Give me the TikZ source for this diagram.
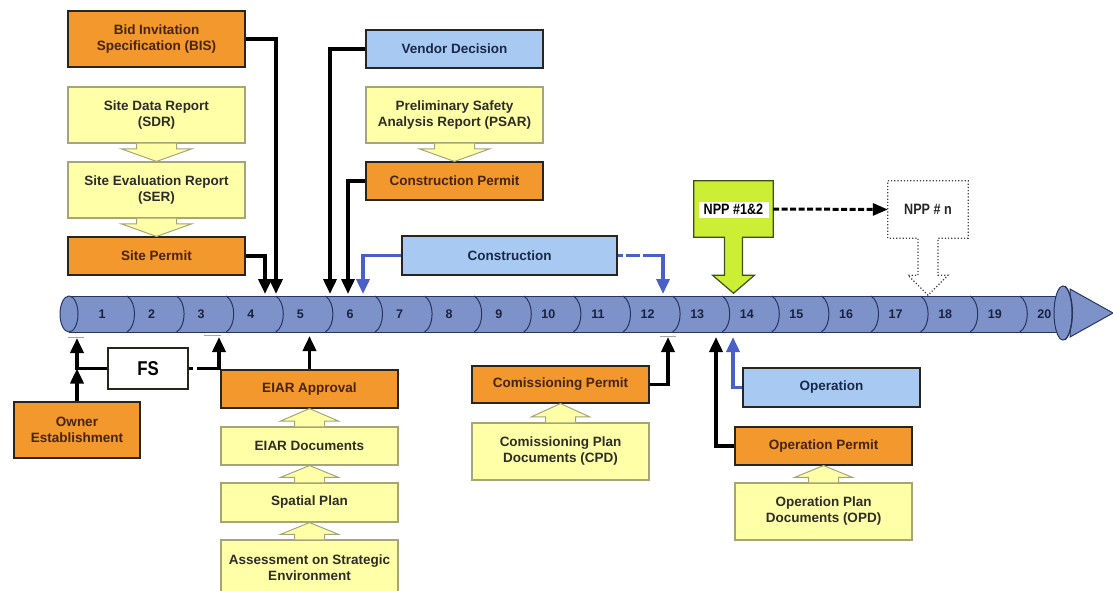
\documentclass[tikz,border=0pt]{standalone}
\usepackage{fontspec}
\setmainfont{Liberation Sans}
\newfontfamily\condfont[FakeStretch=0.84]{Liberation Sans}
\usetikzlibrary{arrows.meta,calc}
\definecolor{orng}{RGB}{242,152,44}
\definecolor{orngtxt}{RGB}{72,36,12}
\definecolor{ylw}{RGB}{255,255,168}
\definecolor{ylwline}{RGB}{165,165,120}
\definecolor{ylwtxt}{RGB}{45,45,40}
\definecolor{bl}{RGB}{168,202,242}
\definecolor{bltxt}{RGB}{25,40,72}
\definecolor{boxline}{RGB}{40,36,30}
\definecolor{grn}{RGB}{204,238,52}
\definecolor{grnline}{RGB}{60,80,20}
\definecolor{tubefill}{RGB}{126,146,202}
\definecolor{tubeline}{RGB}{40,52,96}
\definecolor{segtxt}{RGB}{26,34,64}
\definecolor{arrblue}{RGB}{72,96,200}
\newcommand\blk[4]{%
  \path[hollow] let \p1=(#1), \p2=(#2), \n1={0.3*(\y2-\y1)} in
   (\x2-#3,\y1) -- (\x2-#3,{\y1+\n1}) -- (\x2-#4,{\y1+\n1}) -- (\x2,\y2)
   -- (\x2+#4,{\y1+\n1}) -- (\x2+#3,{\y1+\n1}) -- (\x2+#3,\y1);}
\begin{document}
\begin{tikzpicture}[x=1pt,y=-1pt,
  box/.style={draw=boxline, line width=1.1pt, minimum width=177pt, inner sep=1pt, align=center,
     font=\fontsize{13.5}{16}\selectfont\bfseries},
  orangebox/.style={box, fill=orng, text=orngtxt},
  yellowbox/.style={box, fill=ylw, draw=ylwline, text=ylwtxt},
  bluebox/.style={box, fill=bl, text=bltxt},
  conn/.style={line width=3.6pt, -{Triangle[length=15pt,width=13pt]}},
  bconn/.style={conn, draw=arrblue},
  hollow/.style={fill=ylw, draw=ylwline, line width=1pt},
  seglabel/.style={font=\fontsize{12.5}{14}\selectfont\bfseries, text=segtxt},
  tubeln/.style={draw=tubeline, line width=1pt}
]
\useasboundingbox (0,0) rectangle (1113,591);
\begin{scope}
\clip (0,0) rectangle (1113,591);

% ---------- timeline tube ----------
\path[fill=tubefill, draw=tubeline, line width=1pt] (1070,289) -- (1113,313) -- (1070,337) -- cycle;
\fill[tubefill] (69,296) rectangle (1064,332);
\draw[tubeln] (69,296) -- (1064,296) (69,332) -- (1064,332);
\draw[tubeln, fill=tubefill] (69,314) ellipse [x radius=9pt, y radius=18pt];
\foreach \k in {0,...,18}
  \draw[tubeln] ({127+49.6*\k},296) .. controls ({137+49.6*\k},302) and ({137+49.6*\k},326) .. ({127+49.6*\k},332);
\draw[tubeln, fill=tubefill] (1063,313) ellipse [x radius=9pt, y radius=27pt];
\draw[tubeln] (1065,286) .. controls (1075,295) and (1075,331) .. (1065,340);
\foreach \n in {1,...,20}
  \node[seglabel] (s\n) at ({102+49.6*(\n-1)},314) {\n};

% small marks under the tube
\draw[gray!70, line width=0.8pt] (68,337) -- (84,337) (204,335) -- (221,335) (660,336) -- (676,336);

% ---------- arrival points ----------
\coordinate (in4a) at (265,294);
\coordinate (in4b) at (276,294);
\coordinate (in6a) at (330,294);
\coordinate (in6b) at (348,294);
\coordinate (in6c) at (363,294);
\coordinate (in12) at (663,294);
\coordinate (b1) at (77,338);
\coordinate (b3) at (219,337);
\coordinate (b5) at (310,336);
\coordinate (b12) at (668,337);
\coordinate (b13) at (716,337);
\coordinate (b14) at (733,337);

% ---------- boxes ----------
\node[orangebox, minimum height=56pt] (bis) at (156.5,39) {Bid Invitation\\Specification (BIS)};
\node[yellowbox, minimum height=56pt] (sdr) at (156.5,115) {Site Data Report\\(SDR)};
\node[yellowbox, minimum height=56pt] (ser) at (156.5,190) {Site Evaluation Report\\(SER)};
\node[orangebox, minimum height=38pt] (sitep) at (156.5,256) {Site Permit};

\node[bluebox, minimum height=38pt] (vendor) at (454.5,49) {Vendor Decision};
\node[yellowbox, minimum height=56pt] (psar) at (454.5,115) {Preliminary Safety\\Analysis Report (PSAR)};
\node[orangebox, minimum height=38pt] (cperm) at (454.5,181) {Construction Permit};
\node[bluebox, minimum height=39pt, minimum width=215pt] (constr) at (509.5,255.5) {Construction};

\node[draw=boxline, line width=1.1pt, fill=white, minimum width=80pt, minimum height=41pt,
      font=\condfont\fontsize{20}{21}\selectfont\bfseries] (fs) at (148,368.5) {FS};
\node[orangebox, minimum height=56pt, minimum width=126pt] (owner) at (77,430) {Owner\\Establishment};

\node[yellowbox, minimum height=56pt] (ase) at (309.5,568) {Assessment on Strategic\\Environment};
\node[yellowbox, minimum height=39pt] (spatial) at (309.5,502.5) {Spatial Plan};
\node[yellowbox, minimum height=38pt] (eiard) at (309.5,446) {EIAR Documents};
\node[orangebox, minimum height=38pt] (eiara) at (309.5,389) {EIAR Approval};

\node[orangebox, minimum height=37pt] (comm) at (560.5,384.5) {Comissioning Permit};
\node[yellowbox, minimum height=57pt] (cpd) at (560.5,451.5) {Comissioning Plan\\Documents (CPD)};

\node[bluebox, minimum height=39pt] (oper) at (831.5,387.5) {Operation};
\node[orangebox, minimum height=38pt] (operp) at (823.5,446) {Operation Permit};
\node[yellowbox, minimum height=57pt] (opd) at (823.5,511.5) {Operation Plan\\Documents (OPD)};

% ---------- hollow block arrows ----------
\blk{sdr.south}{ser.north}{20pt}{35pt}
\blk{ser.south}{sitep.north}{20pt}{35pt}
\blk{psar.south}{cperm.north}{20pt}{35pt}
\blk{eiard.north}{eiara.south}{15pt}{29pt}
\blk{spatial.north}{eiard.south}{15pt}{29pt}
\blk{ase.north}{spatial.south}{15pt}{29pt}
\blk{cpd.north}{comm.south}{15pt}{29pt}
\blk{opd.north}{operp.south}{15pt}{29pt}

% ---------- NPP callouts ----------
\node[minimum width=79pt, minimum height=56pt, inner sep=0pt] (npp1) at (733.5,209) {};
\path[fill=grn, draw=grnline, line width=1.2pt] (npp1.north west) -- (npp1.north east) -- (npp1.south east)
  -- ($(npp1.south)+(9,0)$) -- ($(npp1.south)+(9,38)$) -- ($(npp1.south)+(21,38)$) -- ($(npp1.south)+(0,56)$)
  -- ($(npp1.south)+(-21,38)$) -- ($(npp1.south)+(-9,38)$) -- ($(npp1.south)+(-9,0)$) -- (npp1.south west) -- cycle;
\node[fill=white, minimum width=70pt, minimum height=16pt, inner sep=0pt,
      font=\condfont\fontsize{15}{16}\selectfont\bfseries] (npp1t) at (733.5,209.5) {NPP \#1\&2};

\node[minimum width=80pt, minimum height=57pt, inner sep=0pt] (nppn) at (928,209.5) {};
\path[fill=white, draw=black!75, line width=1.2pt, dotted] (nppn.north west) -- (nppn.north east) -- (nppn.south east)
  -- ($(nppn.south)+(10,0)$) -- ($(nppn.south)+(10,37)$) -- ($(nppn.south)+(20,37)$) -- ($(nppn.south)+(0,57)$)
  -- ($(nppn.south)+(-20,37)$) -- ($(nppn.south)+(-10,37)$) -- ($(nppn.south)+(-10,0)$) -- (nppn.south west) -- cycle;
\node[font=\condfont\fontsize{15}{16}\selectfont\bfseries, text=black!85] (nppnt) at (nppn) {NPP \# n};

\draw[line width=3pt, dash pattern=on 6pt off 2.5pt, -{Triangle[length=15pt,width=12pt]}]
  (npp1.east) -- (nppn.west);

% ---------- connectors ----------
\draw[conn] (bis.east) -| (in4b);
\draw[conn] (sitep.east) -| (in4a);
\draw[conn] (vendor.west) -| (in6a);
\draw[conn] (cperm.west) -| (in6b);
\draw[bconn] (constr.west) -| (in6c);
\draw[bconn, dash pattern=on 5pt off 3pt on 14pt off 3pt on 100pt] (constr.east) -| (in12);

\draw[conn] (fs.west) -| (b1);
\draw[conn, dash pattern=on 4pt off 4pt on 100pt] (fs.east) -| (b3);
\draw[conn] (owner.north) -- (owner.north |- fs.west);
\draw[conn] (eiara.north) -- (eiara.north |- b5);
\draw[conn] (comm.east) -| (b12);
\draw[conn] (operp.west) -| (b13);
\draw[bconn] (oper.west) -| (b14);
\end{scope}
\end{tikzpicture}
\end{document}
